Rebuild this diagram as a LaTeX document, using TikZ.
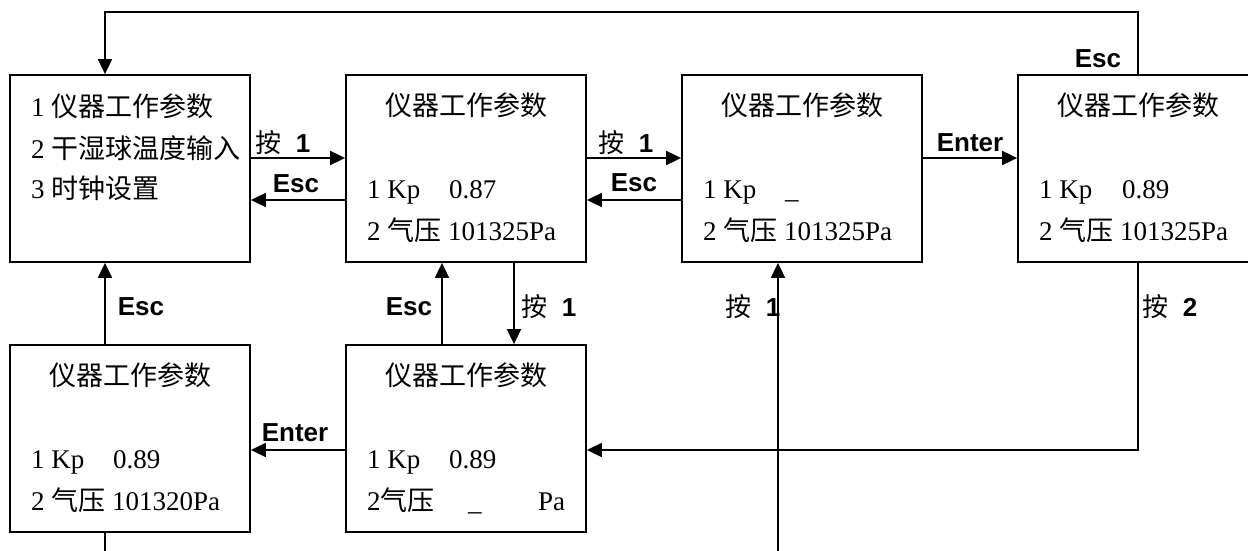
\documentclass[tikz,border=0pt]{standalone}
\usepackage{fontspec}
\setmainfont{Liberation Serif}
\newfontfamily\cjk{Noto Sans CJK SC}
\newfontfamily\lab{Liberation Sans}
\usetikzlibrary{arrows.meta}
\begin{document}
\begin{tikzpicture}[x=1pt,y=-1pt,
  font=\fontsize{27}{32}\selectfont,
  box/.style={draw, line width=1.8pt, minimum width=240pt, minimum height=187pt, inner sep=0pt},
  arr/.style={line width=1.8pt, -{Triangle[length=15pt,width=14pt]}},
  lbl/.style={font=\lab\bfseries\fontsize{26}{30}\selectfont, inner sep=0pt},
  txt/.style={anchor=base west, inner sep=0pt},
  ttl/.style={anchor=base, inner sep=0pt}]
\useasboundingbox (0,0) rectangle (1248,551);
\fill[white] (0,0) rectangle (1248,551);

% boxes
\node[box] (A) at (130,168.5) {};
\node[box] (B) at (466,168.5) {};
\node[box] (C) at (802,168.5) {};
\node[box] (D) at (1138,168.5) {};
\node[box] (E) at (130,438.5) {};
\node[box] (F) at (466,438.5) {};

% box texts
\node[txt] (a1) at (31,117) {1 {\cjk 仪器工作参数}};
\node[txt] (a2) at (31,158) {2 {\cjk 干湿球温度输入}};
\node[txt] (a3) at (31,198) {3 {\cjk 时钟设置}};

\node[ttl] (bt) at (466,115) {\cjk 仪器工作参数};
\node[txt] (b1) at (367,198) {1 Kp};
\node[txt] (b1v) at (449,198) {0.87};
\node[txt] (b2) at (367,240) {2 {\cjk 气压} 101325Pa};

\node[ttl] (ct) at (802,115) {\cjk 仪器工作参数};
\node[txt] (c1) at (703,198) {1 Kp};
\node[txt] (c1v) at (785,198) {\_};
\node[txt] (c2) at (703,240) {2 {\cjk 气压} 101325Pa};

\node[ttl] (dt) at (1138,115) {\cjk 仪器工作参数};
\node[txt] (d1) at (1039,198) {1 Kp};
\node[txt] (d1v) at (1122,198) {0.89};
\node[txt] (d2) at (1039,240) {2 {\cjk 气压} 101325Pa};

\node[ttl] (et) at (130,385) {\cjk 仪器工作参数};
\node[txt] (e1) at (31,468) {1 Kp};
\node[txt] (e1v) at (113,468) {0.89};
\node[txt] (e2) at (31,510) {2 {\cjk 气压} 101320Pa};

\node[ttl] (ft) at (466,385) {\cjk 仪器工作参数};
\node[txt] (f1) at (367,468) {1 Kp};
\node[txt] (f1v) at (449,468) {0.89};
\node[txt] (f2) at (367,510) {2{\cjk 气压}};
\node[txt] (f2u) at (468,510) {\_};
\node[txt] (f2p) at (538,510) {Pa};

% helper coordinates
\coordinate (top) at (0,12);
\coordinate (bot) at (0,600);
\coordinate (yfw) at (0,158);
\coordinate (ybk) at (0,200);
\coordinate (yF) at (0,450);
\coordinate (xa) at (105,0);
\coordinate (xfb) at (442,0);
\coordinate (xbf) at (514,0);
\coordinate (xc) at (778,0);

% connectors
\draw[arr] (A.east |- yfw) -- (B.west |- yfw);
\draw[arr] (B.west |- ybk) -- (A.east |- ybk);
\draw[arr] (B.east |- yfw) -- (C.west |- yfw);
\draw[arr] (C.west |- ybk) -- (B.east |- ybk);
\draw[arr] (C.east |- yfw) -- (D.west |- yfw);
\draw[arr] (D.north) -- (D.north |- top) -- (xa |- top) -- (xa |- A.north);
\draw[arr] (xa |- E.north) -- (xa |- A.south);
\draw[arr] (xbf |- B.south) -- (xbf |- F.north);
\draw[arr] (xfb |- F.north) -- (xfb |- B.south);
\draw[arr] (D.south) -- (D.south |- yF) -- (F.east |- yF);
\draw[arr] (F.west |- yF) -- (E.east |- yF);
\draw[arr] (xa |- E.south) -- (xa |- bot) -- (xc |- bot) -- (xc |- C.south);

% labels
\node[lbl] (l1) at (283,143) {{\cjk\mdseries 按}\hspace{14pt}1};
\node[lbl] (l2) at (296,184) {Esc};
\node[lbl] (l3) at (626,143) {{\cjk\mdseries 按}\hspace{14pt}1};
\node[lbl] (l4) at (634,183) {Esc};
\node[lbl] (l5) at (970,143) {Enter};
\node[lbl] (l6) at (1098,59) {Esc};
\node[lbl] (l7) at (141,307) {Esc};
\node[lbl] (l8) at (409,307) {Esc};
\node[lbl] (l9) at (549,307) {{\cjk\mdseries 按}\hspace{14pt}1};
\node[lbl] (l10) at (753,307) {{\cjk\mdseries 按}\hspace{14pt}1};
\node[lbl] (l11) at (1170,307) {{\cjk\mdseries 按}\hspace{14pt}2};
\node[lbl] (l12) at (295,433) {Enter};
\end{tikzpicture}
\end{document}
